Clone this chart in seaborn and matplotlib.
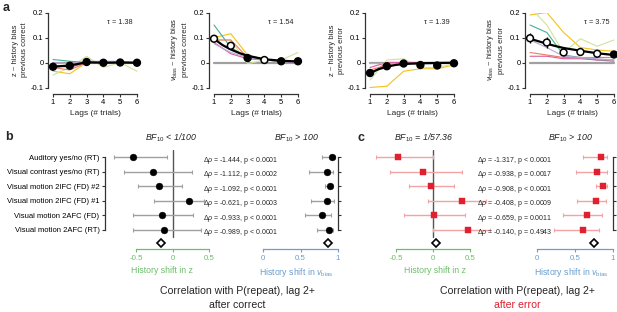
import numpy as np
import pandas as pd
import matplotlib
matplotlib.use("Agg")
import matplotlib.pyplot as plt
import seaborn as sns

# ---------------- data ----------------
lags = [1, 2, 3, 4, 5, 6]
datasets = ["d1", "d2", "d3", "d4", "d5", "d6"]
ds_colors = ["#F2C21B", "#CFE39A", "#45AE94", "#EE7A62", "#D95C9C", "#B9A7DA"]
baseline = [0, 0, 0, 0, 0, 0]

# panel a, 1: z ~ previous correct
z_corr_lines = [
    [-0.035, -0.045, 0.0, 0.0, 0.0, -0.003],
    [-0.05, -0.02, 0.025, -0.02, 0.0, -0.035],
    [0.012, 0.005, 0.0, 0.0, 0.0, 0.0],
    [-0.02, -0.03, 0.0, 0.0, 0.0, 0.0],
    [-0.01, -0.02, 0.0, 0.005, 0.0, 0.0],
    [0.0, -0.005, 0.005, 0.005, 0.005, 0.0],
]
z_corr_mean = [-0.017, -0.013, 0.002, -0.001, 0.000, -0.001]
z_corr_err = [0.004, 0.004, 0.003, 0.003, 0.003, 0.003]
z_corr_open = [False, False, False, False, False, False]
z_corr_fit_x = [1, 2, 3, 4, 5, 6]
z_corr_fit_y = [-0.017, -0.012, 0.001, -0.001, 0.0, -0.001]

# panel a, 2: vbias ~ previous correct
v_corr_lines = [
    [0.10, 0.115, 0.03, 0.012, 0.005, 0.005],
    [0.09, 0.09, -0.005, 0.01, 0.01, 0.04],
    [0.15, 0.06, 0.02, 0.01, 0.005, 0.005],
    [0.09, 0.09, 0.02, 0.01, 0.005, 0.005],
    [0.08, 0.035, 0.015, 0.01, 0.005, 0.0],
    [0.075, 0.04, 0.02, 0.01, 0.005, 0.0],
]
v_corr_mean = [0.095, 0.067, 0.018, 0.010, 0.005, 0.005]
v_corr_err = [0.006, 0.006, 0.004, 0.003, 0.003, 0.003]
v_corr_open = [True, True, False, True, False, False]
v_corr_fit_x = [1, 1.5, 2, 2.5, 3, 3.5, 4, 5, 6]
v_corr_fit_y = [0.095, 0.070, 0.052, 0.038, 0.027, 0.020, 0.013, 0.007, 0.004]

# panel a, 3: z ~ previous error
z_err_lines = [
    [-0.10, -0.095, -0.035, -0.025, -0.025, -0.01],
    [-0.07, 0.01, 0.015, -0.02, -0.02, -0.005],
    [-0.05, 0.0, 0.0, 0.0, 0.0, 0.0],
    [-0.03, -0.01, 0.0, 0.0, 0.0, 0.0],
    [-0.02, 0.0, 0.0, 0.0, 0.0, 0.0],
    [0.0, 0.0, 0.0, 0.0, 0.0, 0.0],
]
z_err_mean = [-0.042, -0.015, -0.004, -0.010, -0.012, -0.003]
z_err_err = [0.010, 0.009, 0.004, 0.004, 0.004, 0.003]
z_err_open = [False, False, False, False, False, False]
z_err_fit_x = [1, 1.5, 2, 2.5, 3, 4, 5, 6]
z_err_fit_y = [-0.042, -0.027, -0.017, -0.010, -0.006, -0.003, -0.002, -0.001]

# panel a, 4: vbias ~ previous error
v_err_lines = [
    [0.19, 0.20, 0.12, 0.06, 0.05, 0.045],
    [0.22, 0.15, 0.04, 0.095, 0.065, 0.09],
    [0.15, 0.12, 0.03, 0.02, 0.01, 0.005],
    [0.04, 0.03, 0.02, 0.02, 0.02, 0.02],
    [0.025, 0.025, 0.015, 0.015, 0.01, 0.01],
    [0.09, 0.06, 0.025, 0.02, 0.015, 0.01],
]
v_err_mean = [0.097, 0.080, 0.040, 0.042, 0.035, 0.032]
v_err_err = [0.020, 0.022, 0.008, 0.006, 0.004, 0.004]
v_err_open = [True, True, True, True, True, False]
v_err_fit_x = [1, 1.5, 2, 2.5, 3, 4, 5, 6]
v_err_fit_y = [0.095, 0.085, 0.075, 0.066, 0.058, 0.047, 0.037, 0.030]

taus = ["1.38", "1.54", "1.39", "3.75"]

rows = ["Auditory yes/no (RT)", "Visual contrast yes/no (RT)",
        "Visual motion 2IFC (FD) #2", "Visual motion 2IFC (FD) #1",
        "Visual motion 2AFC (FD)", "Visual motion 2AFC (RT)"]

b_z = [-0.55, -0.27, -0.19, 0.22, -0.15, -0.12]
b_z_lo = [-0.80, -0.67, -0.48, -0.26, -0.55, -0.55]
b_z_hi = [-0.08, 0.26, 0.12, 0.42, 0.27, 0.39]
b_z_mean = -0.16
b_v = [0.92, 0.85, 0.89, 0.85, 0.79, 0.88]
b_v_lo = [0.79, 0.61, 0.83, 0.64, 0.56, 0.72]
b_v_hi = [0.96, 0.93, 0.92, 0.95, 0.91, 0.93]
b_v_mean = 0.87
b_stats = ["-1.444, p < 0.0001", "-1.112, p = 0.0002", "-1.092, p < 0.0001",
           "-0.621, p = 0.0003", "-0.933, p < 0.0001", "-0.989, p < 0.0001"]

c_z = [-0.47, -0.13, -0.03, 0.39, 0.01, 0.47]
c_z_lo = [-0.77, -0.58, -0.32, -0.07, -0.39, 0.0]
c_z_hi = [0.0, 0.39, 0.28, 0.72, 0.43, 0.77]
c_z_mean = 0.04
c_v = [0.84, 0.79, 0.87, 0.78, 0.66, 0.61]
c_v_lo = [0.61, 0.51, 0.78, 0.53, 0.34, 0.22]
c_v_hi = [0.92, 0.92, 0.92, 0.91, 0.86, 0.82]
c_v_mean = 0.75
c_stats = ["-1.317, p < 0.0001", "-0.938, p = 0.0017", "-0.908, p < 0.0001",
           "-0.408, p = 0.0009", "-0.659, p = 0.0011", "-0.140, p = 0.4943"]

# ---------------- style ----------------
sns.set_theme(style="ticks")
plt.rcParams["font.family"] = ["Liberation Sans", "DejaVu Sans"]
plt.rcParams["mathtext.fontset"] = "custom"
plt.rcParams["mathtext.rm"] = "Liberation Sans"
plt.rcParams["mathtext.it"] = "Liberation Sans:italic"
plt.rcParams["mathtext.bf"] = "Liberation Sans:bold"
plt.rcParams["axes.linewidth"] = 0.9

W, H = 617, 312
fig = plt.figure(figsize=(W / 100, H / 100), dpi=100)


def fpx(l, t, w, h):
    return [l / W, 1 - (t + h) / H, w / W, h / H]


GREEN = "#6DBE6A"
BLUE = "#6A9ECF"
RED = "#E0202F"
LRED = "#F2A3A3"
GRAY = "#A0A0A0"
FS = 5.5

# ---------------- panel a ----------------
a_specs = [
    (50.5, z_corr_lines, z_corr_mean, z_corr_err, z_corr_open, z_corr_fit_x, z_corr_fit_y,
     "z ~ history bias\nprevious correct"),
    (211.5, v_corr_lines, v_corr_mean, v_corr_err, v_corr_open, v_corr_fit_x, v_corr_fit_y,
     "$v_{\\mathrm{bias}}$ ~ history bias\nprevious correct"),
    (367.5, z_err_lines, z_err_mean, z_err_err, z_err_open, z_err_fit_x, z_err_fit_y,
     "z ~ history bias\nprevious error"),
    (527.5, v_err_lines, v_err_mean, v_err_err, v_err_open, v_err_fit_x, v_err_fit_y,
     "$v_{\\mathrm{bias}}$ ~ history bias\nprevious error"),
]

for i, (left, lines, mean, err, opn, fx, fy, ylab) in enumerate(a_specs):
    ax = fig.add_axes(fpx(left, 12.5, 89, 75))
    df = pd.DataFrame({
        "lag": lags * len(datasets),
        "value": [v for ln in lines for v in ln],
        "dataset": [d for d in datasets for _ in lags],
    })
    sns.lineplot(x=lags, y=baseline, color="#A0A0A0", lw=1.6, ax=ax, zorder=1)
    sns.lineplot(data=df, x="lag", y="value", hue="dataset", palette=ds_colors,
                 lw=0.8, legend=False, ax=ax, zorder=2)
    sns.lineplot(x=fx, y=fy, color="black", lw=1.6, ax=ax, zorder=3)
    ax.errorbar(lags, mean, yerr=err, fmt="none", ecolor="black", elinewidth=1.0, zorder=4)
    fc = ["white" if o else "black" for o in opn]
    ax.scatter(lags, mean, s=24, facecolors=fc, edgecolors="black", linewidths=1.1,
               zorder=5, clip_on=False)
    ax.set_xlim(0.85, 6.15)
    ax.set_ylim(-0.1, 0.2)
    ax.set_xticks(lags)
    ax.set_yticks([-0.1, 0, 0.1, 0.2])
    ax.set_yticklabels(["-0.1", "0", "0.1", "0.2"])
    ax.tick_params(labelsize=FS, length=2, width=0.8, pad=1.5, colors="#333333")
    ax.tick_params(axis="x", labelcolor="black")
    ax.tick_params(axis="y", labelcolor="black")
    for s in ["top", "right"]:
        ax.spines[s].set_visible(False)
    ax.spines["left"].set_position(("outward", 1.5))
    ax.spines["bottom"].set_position(("outward", 4.5))
    ax.spines["left"].set_bounds(-0.1, 0.2)
    ax.spines["bottom"].set_bounds(1, 6)
    for s in ["left", "bottom"]:
        ax.spines[s].set_color("#333333")
    ax.set_xlabel("Lags (# trials)", fontsize=FS + 0.5, labelpad=3)
    ax.set_ylabel(ylab, fontsize=FS, labelpad=2, linespacing=1.3)
    ax.text(5.0, 0.16, "τ = " + taus[i], fontsize=FS - 0.2, ha="center", va="center")
    ax.patch.set_alpha(0)

fig.text(3 / W, 1 - 8 / H, "a", fontsize=9, fontweight="bold", va="center")
fig.text(5 / W, 1 - 137 / H, "b", fontsize=9, fontweight="bold", va="center")
fig.text(358 / W, 1 - 138 / H, "c", fontsize=9, fontweight="bold", va="center")

# ---------------- forest plots ----------------
ROW_TOP = 157.0
ROW_H = 14.6
Y_TOP = ROW_TOP - 0.5 * ROW_H
Y_BOT = ROW_TOP + 6.3 * ROW_H
AX_H = Y_BOT - Y_TOP
ypos = np.arange(6)


def forest(ax, mid, lo, hi, mean, ptcol, barcol, marker, size):
    mid = np.array(mid)
    lo = np.array(lo)
    hi = np.array(hi)
    ax.errorbar(mid, ypos, xerr=[mid - lo, hi - mid], fmt="none", ecolor=barcol,
                elinewidth=1.0, capsize=1.5, capthick=0.8, zorder=2)
    sns.scatterplot(x=mid, y=ypos, marker=marker, color=ptcol, s=size, edgecolor=ptcol,
                    linewidth=0.3, ax=ax, zorder=3, legend=False)
    ax.plot([mean], [5.9], marker="D", markersize=3.8, markerfacecolor="white",
            markeredgecolor="black", markeredgewidth=1.2, linestyle="none", zorder=4,
            clip_on=False)
    ax.set_ylim(6.3, -0.5)
    ax.patch.set_alpha(0)
    ax.spines["top"].set_visible(False)


def bottom_axis(ax, col, bounds, ticks, labels, xlabel):
    ax.spines["bottom"].set_color(col)
    ax.spines["bottom"].set_bounds(*bounds)
    ax.spines["bottom"].set_linewidth(0.9)
    ax.set_xticks(ticks)
    ax.set_xticklabels(labels)
    ax.tick_params(axis="x", colors=col, labelsize=FS + 0.2, length=2.5, width=0.8, pad=2)
    ax.set_xlabel(xlabel, color=col, fontsize=FS + 0.8, labelpad=3)


def left_z(ax, mid, lo, hi, mean, ptcol, barcol, marker, size, with_labels):
    forest(ax, mid, lo, hi, mean, ptcol, barcol, marker, size)
    ax.plot([0, 0], [-0.5, 5.45], color="#555555", lw=1.0, zorder=1)
    ax.spines["right"].set_visible(False)
    if with_labels:
        ax.set_yticks(ypos)
        ax.set_yticklabels(rows)
        ax.tick_params(axis="y", labelsize=FS, length=2.5, width=0.8, pad=1.5,
                       colors="#333333", labelcolor="black")
        ax.spines["left"].set_bounds(0, 5)
        ax.spines["left"].set_color("#333333")
    else:
        ax.set_yticks([])
        ax.spines["left"].set_visible(False)
    bottom_axis(ax, GREEN, (-0.5, 0.5), [-0.5, 0, 0.5], ["-0.5", "0", "0.5"],
                "History shift in z")


def right_v(ax, mid, lo, hi, mean, ptcol, barcol, marker, size):
    forest(ax, mid, lo, hi, mean, ptcol, barcol, marker, size)
    ax.spines["left"].set_visible(False)
    ax.yaxis.tick_right()
    ax.set_yticks(ypos)
    ax.set_yticklabels([])
    ax.tick_params(axis="y", length=2.5, width=0.8, colors="#333333")
    ax.spines["right"].set_bounds(0, 5)
    ax.spines["right"].set_color("#333333")
    bottom_axis(ax, BLUE, (0, 1), [0, 0.5, 1], ["0", "0.5", "1"],
                "History shift in $v_{\\mathrm{bias}}$")


# b
ax_bz = fig.add_axes(fpx(105, Y_TOP, 1.55 * 73, AX_H))
ax_bz.set_xlim(-0.93, 0.62)
left_z(ax_bz, b_z, b_z_lo, b_z_hi, b_z_mean, "black", GRAY, "o", 24, True)

ax_bv = fig.add_axes(fpx(263 - 0.1 * 75, Y_TOP, 1.1 * 75, AX_H))
ax_bv.set_xlim(-0.1, 1.0)
right_v(ax_bv, b_v, b_v_lo, b_v_hi, b_v_mean, "black", GRAY, "o", 24)

# c
ax_cz = fig.add_axes(fpx(433 - 0.8 * 74, Y_TOP, 1.65 * 74, AX_H))
ax_cz.set_xlim(-0.8, 0.85)
left_z(ax_cz, c_z, c_z_lo, c_z_hi, c_z_mean, RED, LRED, "s", 15, False)

ax_cv = fig.add_axes(fpx(537 - 0.1 * 76, Y_TOP, 1.1 * 76, AX_H))
ax_cv.set_xlim(-0.1, 1.0)
right_v(ax_cv, c_v, c_v_lo, c_v_hi, c_v_mean, RED, LRED, "s", 15)

# stats text
for k in range(6):
    yy = 1 - (ROW_TOP + 3 + k * ROW_H) / H
    fig.text(203 / W, yy, "$\\Delta\\rho$ = " + b_stats[k], fontsize=FS - 0.5, va="center")
    fig.text(477 / W, yy, "$\\Delta\\rho$ = " + c_stats[k], fontsize=FS - 0.5, va="center")

# BF titles
bf = [(171, "BF$_{10}$ < 1/100"), (296, "BF$_{10}$ > 100"),
      (424, "BF$_{10}$ = 1/57.36"), (570, "BF$_{10}$ > 100")]
for x, t in bf:
    fig.text(x / W, 1 - 138 / H, t, fontsize=6.3, style="italic", ha="center", va="center",
             color="#222222")

# bottom captions
fig.text(237 / W, 1 - 291 / H, "Correlation with P(repeat), lag 2+", fontsize=7.6,
         ha="center", va="center")
fig.text(237 / W, 1 - 305 / H, "after correct", fontsize=7.6, ha="center", va="center")
fig.text(517 / W, 1 - 291 / H, "Correlation with P(repeat), lag 2+", fontsize=7.6,
         ha="center", va="center")
fig.text(517 / W, 1 - 305 / H, "after error", fontsize=7.6, ha="center", va="center",
         color=RED)

fig.savefig("out.png", dpi=100)
